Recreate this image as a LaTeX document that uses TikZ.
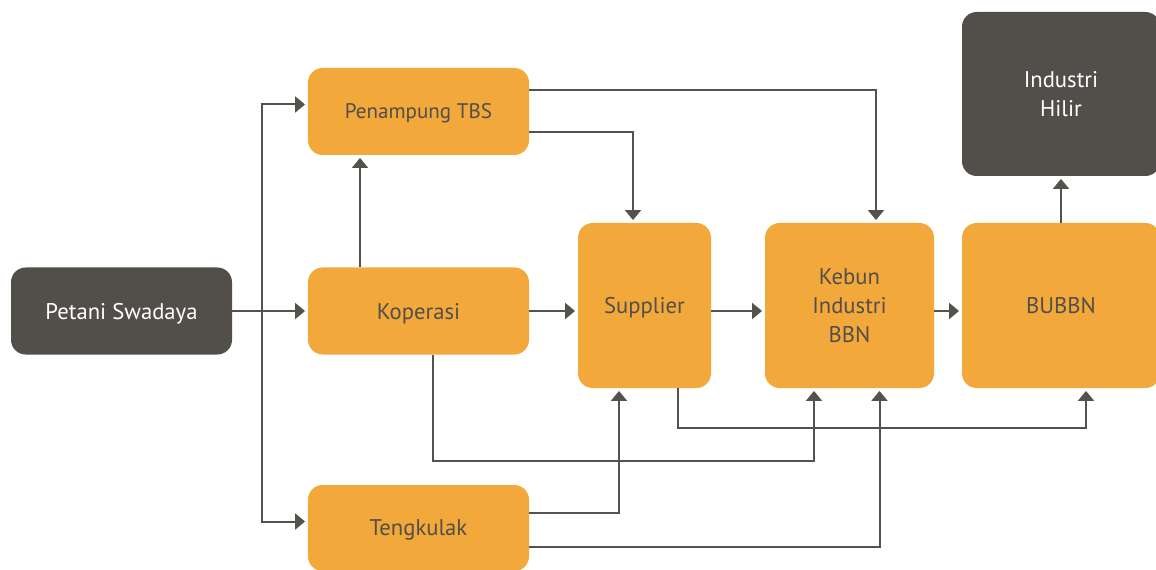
\documentclass[tikz,border=0pt]{standalone}
\usepackage{fontspec}
\setmainfont{PT Sans}
\usepackage{tikz}
\usetikzlibrary{calc}
\usetikzlibrary{arrows.meta}

\definecolor{chainorange}{HTML}{F2A83B}
\definecolor{chaindark}{HTML}{524F4A}
\definecolor{chainline}{HTML}{55524E}

\begin{document}
\begin{tikzpicture}[x=0.75pt,y=-0.75pt,
    actor/.style={rectangle,rounded corners=11pt,fill=chainorange,text=chaindark,
      inner sep=0pt,text depth=0pt,align=center,font=\fontsize{17}{22}\selectfont},
    ends/.style={actor,fill=chaindark,text=white},
    flow/.style={draw=chainline,line width=1.5pt,
      -{Triangle[length=7.5pt,width=12pt]},shorten >=2pt}]
  % Boundary
  \path[use as bounding box] (0,0) rectangle (1156,570);
  % Actors
  \node[ends,minimum width=165.75pt,minimum height=65.25pt] (petani) at (121.5,311) {Petani Swadaya};
  \node[actor,minimum width=165.75pt,minimum height=65.25pt,font=\fontsize{15.8}{20}\selectfont] (penampung) at (418.5,111.5) {Penampung TBS};
  \node[actor,minimum width=165.75pt,minimum height=65.25pt] (koperasi) at (418.5,311) {Koperasi};
  \node[actor,minimum width=165.75pt,minimum height=64.5pt] (tengkulak) at (418.5,528) {Tengkulak};
  \node[actor,minimum width=99.75pt,minimum height=123.75pt] (supplier) at (644.5,305.5) {Supplier};
  \node[actor,minimum width=126.75pt,minimum height=123.75pt] (kebun) at (849.5,305.5) {Kebun\\Industri\\BBN};
  \node[actor,minimum width=148.5pt,minimum height=123.75pt] (bubbn) at (1061,305.5) {BUBBN};
  \node[ends,minimum width=148.5pt,minimum height=123pt] (hilir) at (1061,94) {Industri\\Hilir};
  % Flows
  \coordinate (split) at (262,311);
  \draw[flow] (petani) -- (koperasi);
  \draw[flow] (split) |- ($(penampung.west)+(0,-7)$);
  \draw[flow] (split) |- ($(tengkulak.west)+(0,-6.5)$);
  \draw[flow] ($(koperasi.north)+(-58.5,0)$) -- ($(penampung.south)+(-58.5,0)$);
  \draw[flow] ($(penampung.east)+(0,-21.5)$) -| ($(kebun.north)+(26.5,0)$);
  \draw[flow] ($(penampung.east)+(0,21)$) -| ($(supplier.north)+(-11.5,0)$);
  \draw[flow] (koperasi.east) -- (koperasi.east -| supplier.west);
  \draw[flow] (supplier.east |- koperasi) -- (kebun.west |- koperasi);
  \draw[flow] (kebun.east |- koperasi) -- (bubbn.west |- koperasi);
  \draw[flow] (bubbn.north) -- (hilir.south);
  \draw[flow] ($(koperasi.south)+(14.5,0)$) -- ++(0,106.5) -| ($(kebun.south)+(-35.5,0)$);
  \draw[flow] ($(supplier.south)+(33.5,0)$) -- ++(0,40) -| ($(bubbn.south)+(25,0)$);
  \draw[flow] ($(tengkulak.east)+(0,-15)$) -| ($(supplier.south)+(-25.5,0)$);
  \draw[flow] ($(tengkulak.east)+(0,18.5)$) -| ($(kebun.south)+(30,0)$);
\end{tikzpicture}
\end{document}
